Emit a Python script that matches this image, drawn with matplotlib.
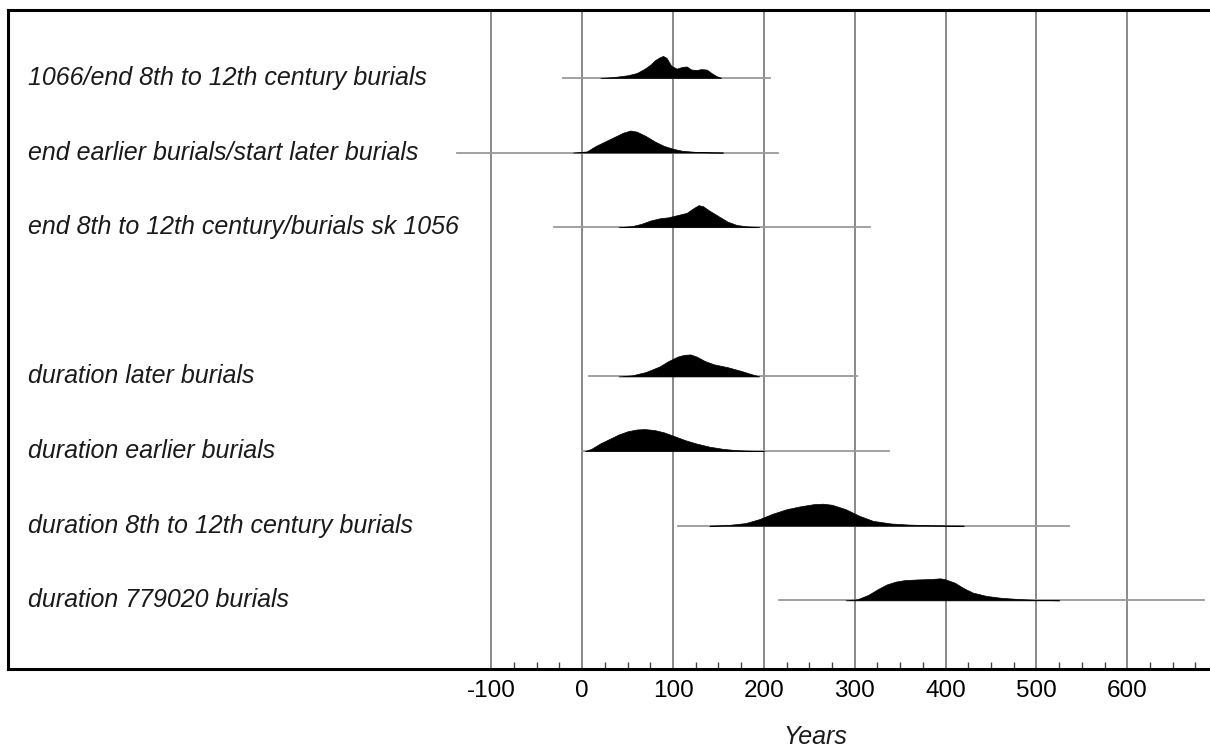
import matplotlib.pyplot as plt
from matplotlib.transforms import blended_transform_factory

# ============================================
# Model output
# ============================================
labels = [
    '1066/end 8th to 12th century burials',
    'end earlier burials/start later burials',
    'end 8th to 12th century/burials sk 1056',
    '',
    'duration later burials',
    'duration earlier burials',
    'duration 8th to 12th century burials',
    'duration 779020 burials',
]

# 95% range shown as thin line
range_lo = [-21, -138, -31, None, 8, 0, 105, 217]
range_hi = [207, 216, 317, None, 303, 338, 536, 684]

# probability distributions (years, relative density)
dist_years = [
    [20, 35, 50, 60, 68, 75, 80, 85, 89, 93, 98, 104, 110, 115, 120, 126, 131, 137, 143, 148, 153],
    [-10, 5, 15, 25, 35, 45, 53, 60, 70, 80, 90, 100, 110, 125, 140, 155],
    [40, 55, 65, 75, 85, 95, 105, 115, 122, 128, 133, 140, 150, 160, 170, 180, 195],
    [],
    [40, 55, 70, 85, 95, 105, 112, 119, 126, 135, 145, 160, 175, 185, 195],
    [3, 10, 20, 30, 40, 50, 60, 69, 80, 90, 100, 113, 125, 140, 155, 170, 185, 200],
    [140, 160, 180, 195, 210, 225, 240, 255, 265, 275, 290, 305, 320, 340, 360, 385, 420],
    [290, 303, 315, 325, 335, 345, 355, 370, 385, 394, 400, 410, 420, 430, 445, 460, 480, 500, 525],
]
dist_dens = [
    [0, 0.04, 0.12, 0.22, 0.4, 0.6, 0.8, 0.93, 1.0, 0.9, 0.55, 0.42, 0.5, 0.52, 0.38, 0.36, 0.4, 0.38, 0.2, 0.08, 0],
    [0, 0.05, 0.3, 0.5, 0.7, 0.9, 1.0, 0.95, 0.75, 0.5, 0.3, 0.17, 0.08, 0.03, 0.01, 0],
    [0, 0.05, 0.15, 0.3, 0.4, 0.45, 0.55, 0.65, 0.85, 1.0, 0.95, 0.75, 0.5, 0.25, 0.1, 0.04, 0],
    [],
    [0, 0.05, 0.2, 0.45, 0.7, 0.9, 0.98, 1.0, 0.9, 0.7, 0.55, 0.42, 0.25, 0.12, 0],
    [0, 0.1, 0.35, 0.55, 0.75, 0.9, 0.98, 1.0, 0.95, 0.85, 0.7, 0.5, 0.35, 0.2, 0.1, 0.04, 0.015, 0],
    [0, 0.03, 0.12, 0.3, 0.55, 0.75, 0.88, 0.98, 1.0, 0.95, 0.75, 0.45, 0.22, 0.1, 0.05, 0.02, 0],
    [0, 0.05, 0.25, 0.5, 0.72, 0.85, 0.92, 0.95, 0.97, 1.0, 0.95, 0.8, 0.55, 0.35, 0.2, 0.12, 0.06, 0.02, 0],
]

grid_years = [-100, 0, 100, 200, 300, 400, 500, 600]

plt.rcParams['font.family'] = ['Liberation Sans', 'DejaVu Sans']

fig = plt.figure(figsize=(12.1, 7.51), dpi=100)
ax = fig.add_axes([8 / 1210, 1 - 669 / 751, 1 - 8 / 1210, (669 - 10) / 751])

peak_h = 0.295

for yr in grid_years:
    ax.axvline(yr, color='#6a6a6a', lw=1.1, zorder=1)

lab_tr = blended_transform_factory(ax.transAxes, ax.transData)
for i, name in enumerate(labels):
    if not name:
        continue
    ax.plot([range_lo[i], range_hi[i]], [i, i], color='#9a9a9a', lw=1.3, zorder=2)
    ys = [i - d * peak_h for d in dist_dens[i]]
    ax.fill_between(dist_years[i], i, ys, color='black', lw=0.5, zorder=3)
    ax.text(0.0166, i, name, transform=lab_tr, fontsize=18, style='italic',
            va='center', ha='left', color='#1a1a1a')

ax.set_xlim(-632, 691)
ax.set_ylim(7.92, -0.91)
ax.set_yticks([])

ax.set_xticks(grid_years)
ax.set_xticklabels([str(v) for v in grid_years], fontsize=17.5)
ax.set_xticks(list(range(-100, 700, 25)), minor=True)
ax.tick_params(axis='x', which='major', direction='in', length=0, pad=8)
ax.tick_params(axis='x', which='minor', direction='in', length=5, width=1, color='#444444')

for side in ['top', 'left', 'bottom']:
    ax.spines[side].set_linewidth(2.2)
    ax.spines[side].set_color('black')
ax.spines['right'].set_visible(False)

fig.text(815 / 1210, 1 - 737 / 751, 'Years', fontsize=18, style='italic',
         ha='center', va='center', color='#1a1a1a')

fig.savefig('out.png', dpi=100)
